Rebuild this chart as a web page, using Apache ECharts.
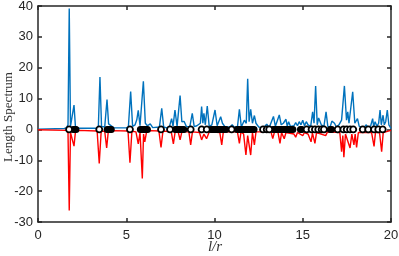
<!DOCTYPE html>
<html><head><meta charset="utf-8">
<script src="https://cdn.jsdelivr.net/npm/echarts@6/dist/echarts.min.js"></script>
<style>html,body{margin:0;padding:0;background:#fff}#c{width:399px;height:256px}</style>
</head><body><div id="c"></div>
<script>
const xTicks = [0, 5, 10, 15, 20];
const yTicks = [-30, -20, -10, 0, 10, 20, 30, 40];
const blueX = [0,1.5,1.62,1.7,1.77,1.84,1.95,2.04,2.12,2.3,3.3,3.42,3.51,3.6,3.78,3.91,4.0,4.1,4.3,5.0,5.12,5.25,5.36,5.5,5.6,5.68,5.78,5.97,6.08,6.2,6.36,6.5,6.88,7.01,7.12,7.3,7.45,7.57,7.65,7.76,7.88,8.05,8.15,8.28,8.4,8.6,8.74,8.85,9.0,9.1,9.2,9.27,9.34,9.4,9.48,9.59,9.7,9.85,10.03,10.15,10.25,10.35,10.45,10.6,10.9,11.0,11.1,11.3,11.41,11.52,11.69,11.8,11.88,11.96,12.05,12.15,12.26,12.35,12.5,12.7,12.85,12.96,13.1,13.2,13.34,13.45,13.55,13.67,13.78,13.9,14.05,14.12,14.2,14.3,14.4,14.5,14.6,14.7,14.8,14.9,15.0,15.1,15.2,15.3,15.45,15.56,15.64,15.73,15.82,15.9,16.05,16.2,16.32,16.42,16.55,16.65,16.8,16.9,17.05,17.2,17.36,17.48,17.55,17.62,17.7,17.83,17.95,18.1,18.2,18.35,18.5,18.6,18.7,18.85,18.96,19.02,19.1,19.2,19.3,19.38,19.45,19.55,19.62,19.7,19.79,19.88,19.95,20];
const blueY = [0.1,0.3,0.6,1.5,39.2,1.0,1.2,7.9,1.0,0.4,0.4,1.0,17.0,1.0,0.8,9.7,1.8,1.2,0.5,0.5,0.8,12.3,1.0,1.5,3.2,6.2,1.2,15.6,2.0,1.2,1.8,0.6,0.8,6.8,0.8,0.5,1.0,3.5,1.0,6.3,1.0,11.0,2.5,2.6,1.0,0.8,5.2,0.9,1.2,0.8,2.0,7.4,2.0,5.2,1.5,7.6,1.0,1.5,6.3,1.2,1.5,4.1,2.0,0.8,0.8,1.5,0.8,0.8,6.5,0.8,3.0,2.0,16.4,2.5,6.5,2.0,4.5,2.0,0.8,0.6,1.0,1.7,0.6,0.8,4.2,1.0,1.5,4.7,1.5,2.0,3.3,1.0,2.5,1.0,1.5,1.2,2.2,1.2,2.5,1.5,3.0,1.2,2.5,1.5,1.0,5.7,2.0,14.1,1.5,3.7,1.5,1.0,5.7,1.0,0.8,2.7,2.0,0.8,1.5,3.0,14.1,3.0,5.7,2.0,1.5,12.2,2.0,3.5,1.0,0.8,0.8,1.5,0.5,1.2,3.5,1.0,2.5,1.0,2.0,6.3,1.5,4.6,1.5,2.5,6.3,1.5,2.0,0.3];
const redX = [0,1.6,1.7,1.77,1.84,1.95,2.04,2.12,2.3,3.35,3.47,3.58,3.78,3.89,3.98,4.2,5.1,5.21,5.32,5.55,5.68,5.78,5.91,5.98,6.05,6.15,6.4,6.85,6.97,7.08,7.55,7.67,7.77,7.95,8.05,8.15,8.55,8.65,8.75,9.15,9.27,9.4,9.55,9.7,10.3,10.41,10.5,11.3,11.41,11.5,11.65,11.78,11.88,12.05,12.15,12.26,12.35,13.2,13.3,13.4,13.6,13.71,13.8,13.95,14.05,14.5,14.6,14.7,15.0,15.1,15.3,15.47,15.55,15.69,15.78,16.3,16.4,17.1,17.2,17.27,17.33,17.42,17.68,17.78,17.9,17.97,18.05,18.15,18.9,19.04,19.12,19.35,19.47,19.56,20];
const redY = [-0.1,-0.3,-1.0,-26.3,-1.0,-1.0,-5.4,-0.8,-0.3,-0.5,-11.0,-0.6,-0.6,-6.0,-0.8,-0.4,-0.5,-10.8,-0.6,-0.8,-4.7,-1.0,-15.9,-1.5,-4.0,-0.8,-0.4,-0.5,-5.8,-0.5,-0.8,-4.7,-0.8,-1.0,-3.4,-0.8,-0.8,-5.0,-0.8,-1.0,-3.4,-1.5,-3.0,-0.8,-1.0,-5.0,-0.8,-0.8,-4.5,-0.8,-1.5,-8.3,-2.0,-8.3,-1.0,-5.0,-0.8,-0.8,-3.0,-0.8,-1.0,-4.5,-1.0,-3.0,-1.0,-1.5,-2.5,-1.0,-2.0,-1.0,-1.5,-4.0,-1.2,-4.5,-1.0,-2.0,-0.8,-1.0,-7.2,-2.0,-9.0,-1.5,-6.0,-1.5,-5.0,-1.5,-5.8,-1.0,-1.0,-5.5,-1.0,-1.0,-7.2,-1.0,-0.3];
// isolated orbit markers (open rings)
const openX = [1.76,3.47,5.21,6.97,7.48,8.65,9.27,9.56,10.97,12.75,12.96,13.1,15.22,15.5,15.69,15.88,16.07,16.2,16.98,17.3,17.49,17.68,17.86,18.4,18.71,19.04,19.28,19.53];
// dense clusters of orbit markers (filled)
const filledX = [2.0,2.08,2.15,3.92,4.0,4.08,4.15,5.8,5.88,5.96,6.04,6.12,6.2,7.78,7.86,7.94,8.02,8.1,8.18,8.26,9.8,9.88,9.96,10.04,10.12,10.2,10.28,10.36,10.45,10.55,10.65,11.28,11.36,11.44,11.52,11.6,11.68,11.76,11.84,11.92,12.0,12.08,12.16,12.24,13.32,13.4,13.48,13.56,13.64,13.72,13.8,13.88,13.96,14.04,14.12,14.2,14.28,14.36,14.44,14.87,14.95,16.56,16.64];
const yName = 'Length Spectrum';
const xName = 'l/r';

const zip = (xs, ys) => xs.map((x, i) => [x, ys[i]]);
const axCol = '#262626';
const chart = echarts.init(document.getElementById('c'), null, {renderer: 'canvas'});
const tickStyle = {show: true, inside: true, length: 4, lineStyle: {color: axCol, width: 1.5}};
const lineStyle = {show: true, onZero: false, lineStyle: {color: axCol, width: 1.5}};
chart.setOption({
  animation: false,
  grid: {left: 38, right: 8, top: 6, bottom: 34, containLabel: false, outerBoundsMode: 'none'},
  graphic: [
    {type: 'text', x: 9, y: 117, rotation: Math.PI / 2,
      style: {text: yName, font: '13px "Liberation Serif"', fill: '#333', align: 'center', verticalAlign: 'middle'}},
    {type: 'text', x: 215, y: 247,
      style: {text: xName, font: 'italic 15px "Liberation Serif"', fill: '#333', align: 'center', verticalAlign: 'middle'}}
  ],
  xAxis: [
    {type: 'value', min: 0, max: 20, interval: 5, position: 'bottom',
      axisLine: lineStyle, axisTick: tickStyle, splitLine: {show: false},
      axisLabel: {color: axCol, fontSize: 13, fontFamily: 'Liberation Sans', margin: 7}},
    {type: 'value', min: 0, max: 20, interval: 5, position: 'top',
      axisLine: lineStyle, axisTick: tickStyle, splitLine: {show: false}, axisLabel: {show: false}}
  ],
  yAxis: [
    {type: 'value', min: -30, max: 40, interval: 10, position: 'left',
      axisLine: lineStyle, axisTick: tickStyle, splitLine: {show: false},
      axisLabel: {color: axCol, fontSize: 13, fontFamily: 'Liberation Sans', margin: 5}},
    {type: 'value', min: -30, max: 40, interval: 10, position: 'right',
      axisLine: lineStyle, axisTick: tickStyle, splitLine: {show: false}, axisLabel: {show: false}}
  ],
  series: [
    {type: 'line', data: zip(blueX, blueY), showSymbol: false, symbol: 'none',
      lineStyle: {color: '#0072BD', width: 1.4}, z: 2},
    {type: 'line', data: zip(redX, redY), showSymbol: false, symbol: 'none',
      lineStyle: {color: '#FF0000', width: 1.4}, z: 2},
    {type: 'scatter', data: filledX.map(x => [x, 0]), symbol: 'circle', symbolSize: 7,
      itemStyle: {color: '#000', opacity: 1}, z: 3},
    {type: 'scatter', data: openX.map(x => [x, 0]), symbol: 'circle', symbolSize: 6,
      itemStyle: {color: '#fff', borderColor: '#000', borderWidth: 1.8, opacity: 1}, z: 4}
  ]
});
</script></body></html>
